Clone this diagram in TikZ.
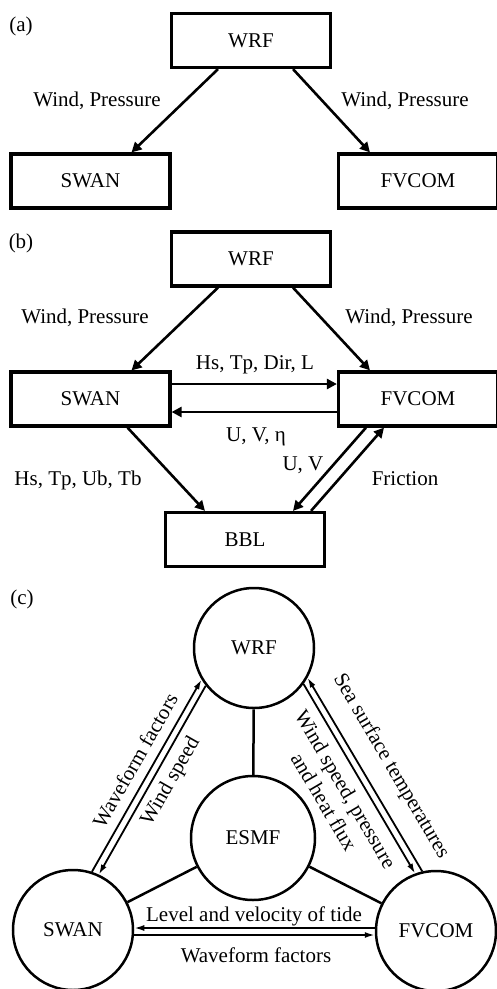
\documentclass[tikz,border=0pt]{standalone}
\usepackage{fontspec}
\setmainfont{Liberation Serif}
\usetikzlibrary{arrows.meta,calc}
\begin{document}
\begin{tikzpicture}[x=1pt,y=-1pt,
  font=\fontsize{21}{25}\selectfont,
  mbox/.style={draw, line width=3.2pt, minimum width=159pt, minimum height=54pt, inner sep=0pt},
  marr/.style={line width=2.6pt, -{Triangle[length=10pt,width=10pt]}},
  mcirc/.style={draw, circle, line width=2.5pt, minimum size=120pt, inner sep=0pt},
  cline/.style={line width=2.5pt},
  carr/.style={line width=1.8pt, -{Latex[length=10pt,width=6pt]}},
  lbl/.style={anchor=base, inner sep=0pt},
  rlbl/.style={inner sep=0pt}
]
\useasboundingbox (0,0) rectangle (497,989);
\fill[white] (0,0) rectangle (497,989);

% ---------- (a) ----------
\node[lbl] (la) at (21,31) {(a)};
\node[mbox] (wa) at (251,40.5) {WRF};
\node[mbox] (sa) at (90.5,181) {SWAN};
\node[mbox] (fa) at (418,181) {FVCOM};
\draw[marr] ([xshift=-33pt]wa.south) -- ([xshift=41pt]sa.north);
\draw[marr] ([xshift=42pt]wa.south) -- ([xshift=-48pt]fa.north);
\node[lbl] (a1) at (97,106) {Wind, Pressure};
\node[lbl] (a2) at (405,106) {Wind, Pressure};

% ---------- (b) ----------
\node[lbl] (lb) at (21,248) {(b)};
\node[mbox] (wb) at (251,259) {WRF};
\node[mbox] (sb) at (90.5,399) {SWAN};
\node[mbox] (fb) at (418,399) {FVCOM};
\node[mbox] (bb) at (245,539.5) {BBL};
\draw[marr] ([xshift=-33pt]wb.south) -- ([xshift=41pt]sb.north);
\draw[marr] ([xshift=42pt]wb.south) -- ([xshift=-48pt]fb.north);
\draw[marr] ([yshift=15pt]sb.east) -- ([yshift=15pt]fb.west);
\draw[marr] ([yshift=-13pt]fb.west) -- ([yshift=-13pt]sb.east);
\draw[marr] ([xshift=37pt]sb.south) -- ([xshift=-40pt]bb.north);
\draw[marr] ([xshift=-52pt]fb.south) -- ([xshift=48pt]bb.north);
\draw[marr] ([xshift=66pt]bb.north) -- ([xshift=-34pt]fb.south);
\node[lbl] (b1) at (85,323) {Wind, Pressure};
\node[lbl] (b2) at (409,323) {Wind, Pressure};
\node[lbl] (b3) at (255,369) {Hs, Tp, Dir, L};
\node[lbl] (b4) at (256,441) {U, V, η};
\node[lbl] (b5) at (303,470) {U, V};
\node[lbl] (b6) at (78,485) {Hs, Tp, Ub, Tb};
\node[lbl] (b7) at (405,485) {Friction};

% ---------- (c) ----------
\node[lbl] (lc) at (22,604) {(c)};
\node[mcirc] (wc) at (254,648) {WRF};
\node[mcirc, minimum size=124pt] (ec) at (253,838) {ESMF};
\node[mcirc] (sc) at (73,930) {SWAN};
\node[mcirc] (fc) at (436,931) {FVCOM};
\draw[cline] (wc) -- (ec);
\draw[cline] (ec) -- (sc);
\draw[cline] (ec) -- (fc);
\draw[carr] (sc.72) -- (wc.211);
\draw[carr] (wc.218) -- (sc.65);
\draw[carr] (wc.324) -- (fc.110);
\draw[carr] (fc.103) -- (wc.331);
\draw[carr] ([yshift=3pt]fc.west) -- ([yshift=2pt]sc.east);
\draw[carr] ([yshift=-5pt]sc.east) -- ([yshift=-4pt]fc.west);
\node[rlbl, rotate=60.3] (c1) at (135,760.5) {Waveform factors};
\node[rlbl, rotate=60.3] (c2) at (171,781.5) {Wind speed};
\node[rlbl, rotate=-59.5] (c3) at (391,766.5) {Sea surface temperatures};
\node[rlbl, rotate=-59.5, align=center] (c4) at (335,795.5) {Wind speed, pressure\\and heat flux};
\node[lbl] (c5) at (254,921) {Level and velocity of tide};
\node[lbl] (c6) at (256,962) {Waveform factors};
\end{tikzpicture}
\end{document}
